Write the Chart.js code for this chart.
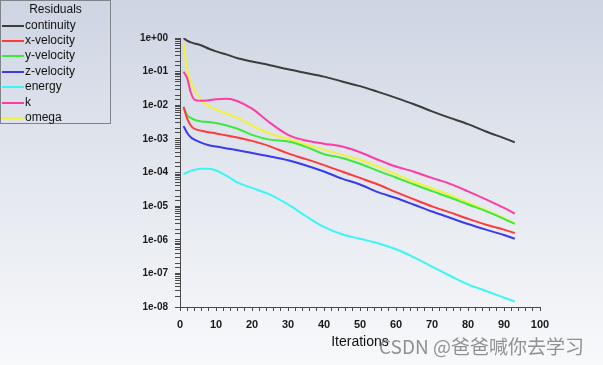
<!DOCTYPE html>
<html>
<head>
<meta charset="utf-8">
<script src="https://cdn.jsdelivr.net/npm/chart.js@4/dist/chart.umd.min.js"></script>
<style>
    html, body { margin: 0; padding: 0; }
    body {
        width: 603px; height: 365px; overflow: hidden; position: relative;
        background: linear-gradient(to bottom, #ced5e3 0%, #e4e8ef 50%, #f8f9fb 100%);
        font-family: "Liberation Sans", Arial, sans-serif;
    }
    #wrap { position: absolute; left: 0; top: 0; width: 603px; height: 365px; }
    #legend {
        position: absolute; left: 0; top: 0; width: 111px; height: 124px;
        box-sizing: border-box; border: 1px solid #80838a;
        font-size: 12px; color: #111;
    }
    #legend .title { position: absolute; left: 0; top: 1px; width: 100%; text-align: center; line-height: 15px; }
    #legend .row { position: absolute; left: 0; height: 15px; line-height: 15px; white-space: nowrap; }
    #legend .swatch { position: absolute; left: 1px; top: 7px; width: 22px; height: 2px; }
    #legend .label { position: absolute; left: 24px; top: 0; }
    #watermark {
        position: absolute; left: 379px; top: 334px; font-size: 19px;
        font-family: "Noto Sans CJK SC", sans-serif; color: rgba(105, 105, 105, 0.72);
        white-space: nowrap; line-height: 24px;
    }
</style>
</head>
<body>
<div id="wrap"><canvas id="residualsChart"></canvas></div>
<div id="legend"></div>
<div id="watermark">CSDN @爸爸喊你去学习</div>
<script>
const iterations = [1, 2, 3, 4, 6, 8, 10, 13, 16, 20, 25, 30, 35, 40, 45, 50, 55, 60, 65, 70, 75, 80, 85, 90, 93];

const seriesNames = ['continuity', 'x-velocity', 'y-velocity', 'z-velocity', 'energy', 'k', 'omega'];
const seriesColors = ['#3c3c3c', '#ff3a3a', '#3ee83e', '#3a3aee', '#3cf6f6', '#ff3ca6', '#f2f23a'];

const continuity = [1.0, 0.83, 0.74, 0.69, 0.60, 0.48, 0.40, 0.32, 0.25, 0.20, 0.155, 0.117, 0.091,
    0.071, 0.051, 0.037, 0.025, 0.0166, 0.0107, 0.0066, 0.0042, 0.00275, 0.00166, 0.00105, 0.00079];
const xVelocity = [8.7e-3, 4.0e-3, 2.5e-3, 2.0e-3, 1.74e-3, 1.58e-3, 1.45e-3, 1.26e-3, 1.1e-3, 8.7e-4,
    6.0e-4, 3.7e-4, 2.5e-4, 1.66e-4, 1.07e-4, 6.9e-5, 4.4e-5, 2.6e-5, 1.58e-5, 9.8e-6, 6.5e-6, 4.2e-6,
    2.8e-6, 2.0e-6, 1.58e-6];
const yVelocity = [9.1e-3, 5.0e-3, 4.2e-3, 3.7e-3, 3.3e-3, 3.2e-3, 2.95e-3, 2.5e-3, 2.0e-3, 1.32e-3,
    9.5e-4, 8.3e-4, 5.8e-4, 3.5e-4, 2.7e-4, 1.82e-4, 1.12e-4, 7.1e-5, 4.4e-5, 2.8e-5, 1.8e-5, 1.12e-5,
    7.1e-6, 4.2e-6, 2.95e-6];
const zVelocity = [2.4e-3, 1.5e-3, 1.12e-3, 9.5e-4, 7.6e-4, 6.5e-4, 5.9e-4, 5.2e-4, 4.6e-4, 3.8e-4,
    3.0e-4, 2.3e-4, 1.62e-4, 1.07e-4, 6.6e-5, 4.4e-5, 2.6e-5, 1.74e-5, 1.1e-5, 6.9e-6, 4.5e-6, 2.95e-6,
    2.0e-6, 1.38e-6, 1.07e-6];
const energy = [8.9e-5, 1.0e-4, 1.12e-4, 1.2e-4, 1.29e-4, 1.29e-4, 1.15e-4, 7.9e-5, 5.0e-5, 3.5e-5,
    2.2e-5, 1.12e-5, 5.0e-6, 2.4e-6, 1.45e-6, 1.07e-6, 7.9e-7, 5.2e-7, 3.0e-7, 1.58e-7, 8.5e-8, 4.7e-8,
    3.0e-8, 1.9e-8, 1.45e-8];
const kResidual = [0.1, 0.063, 0.024, 0.0148, 0.0135, 0.0141, 0.0151, 0.0155, 0.0132, 7.9e-3, 3.0e-3,
    1.32e-3, 8.9e-4, 7.2e-4, 5.9e-4, 4.0e-4, 2.4e-4, 1.51e-4, 1.05e-4, 6.9e-5, 4.6e-5, 2.75e-5, 1.58e-5,
    8.9e-6, 6.0e-6];
const omega = [0.71, 0.112, 0.050, 0.0282, 0.0141, 9.5e-3, 7.6e-3, 5.6e-3, 4.2e-3, 2.5e-3, 1.45e-3,
    1.0e-3, 6.8e-4, 4.8e-4, 3.4e-4, 2.4e-4, 1.5e-4, 8.9e-5, 5.2e-5, 3.4e-5, 2.15e-5, 1.26e-5, 7.6e-6,
    4.4e-6, 3.0e-6];

const seriesValues = [continuity, xVelocity, yVelocity, zVelocity, energy, kResidual, omega];

const fontFamily = '"Liberation Sans", Arial, sans-serif';

function expLabel(v) {
    const e = Math.log10(v);
    const r = Math.round(e);
    if (Math.abs(e - r) > 1e-6) return '';
    const sign = r < 0 ? '-' : '+';
    return '1e' + sign + String(Math.abs(r)).padStart(2, '0');
}

document.addEventListener('DOMContentLoaded', function() {
    // legend box in the top-left corner
    const legend = document.getElementById('legend');
    legend.innerHTML = '<div class="title">Residuals</div>';
    seriesNames.forEach((name, i) => {
        const row = document.createElement('div');
        row.className = 'row';
        row.style.top = (16.5 + i * 15.4) + 'px';
        row.innerHTML = `<span class="swatch" style="background:${seriesColors[i]}"></span><span class="label">${name}</span>`;
        legend.appendChild(row);
    });

    const datasets = seriesNames.map((name, i) => ({
        label: name,
        data: iterations.map((it, j) => ({ x: it, y: seriesValues[i][j] })),
        borderColor: seriesColors[i],
        backgroundColor: seriesColors[i],
        borderWidth: 2,
        pointRadius: 0,
        cubicInterpolationMode: 'monotone',
        fill: false
    }));

    const ctx = document.getElementById('residualsChart').getContext('2d');
    new Chart(ctx, {
        type: 'line',
        data: { datasets: datasets },
        options: {
            responsive: true,
            maintainAspectRatio: false,
            animation: false,
            devicePixelRatio: 1,
            layout: { padding: { left: 0, top: 38, right: 63, bottom: 0 } },
            plugins: {
                legend: { display: false },
                tooltip: { enabled: false }
            },
            scales: {
                x: {
                    type: 'linear',
                    min: 0,
                    max: 100,
                    afterFit: s => { s.height = 58; },
                    border: { color: '#4a4a4a', width: 1 },
                    grid: { drawOnChartArea: false, tickLength: 4, color: '#4a4a4a' },
                    ticks: {
                        stepSize: 2,
                        autoSkip: false,
                        maxRotation: 0,
                        padding: 7,
                        color: '#1a1a1a',
                        font: { family: fontFamily, size: 11, weight: 'bold' },
                        callback: v => (v % 10 === 0 ? String(v) : '')
                    },
                    title: {
                        display: true,
                        text: 'Iterations',
                        color: '#111',
                        font: { family: fontFamily, size: 14 },
                        padding: { top: 0, bottom: 14 }
                    }
                },
                y: {
                    type: 'logarithmic',
                    min: 1e-8,
                    max: 1,
                    afterFit: s => { s.width = 180; },
                    border: { color: '#4a4a4a', width: 1 },
                    grid: { drawOnChartArea: false, tickLength: 5, color: '#4a4a4a' },
                    ticks: {
                        autoSkip: false,
                        padding: 7,
                        color: '#1a1a1a',
                        font: { family: fontFamily, size: 10, weight: 'bold' },
                        callback: v => expLabel(v)
                    }
                }
            }
        }
    });
});
</script>
</body>
</html>
